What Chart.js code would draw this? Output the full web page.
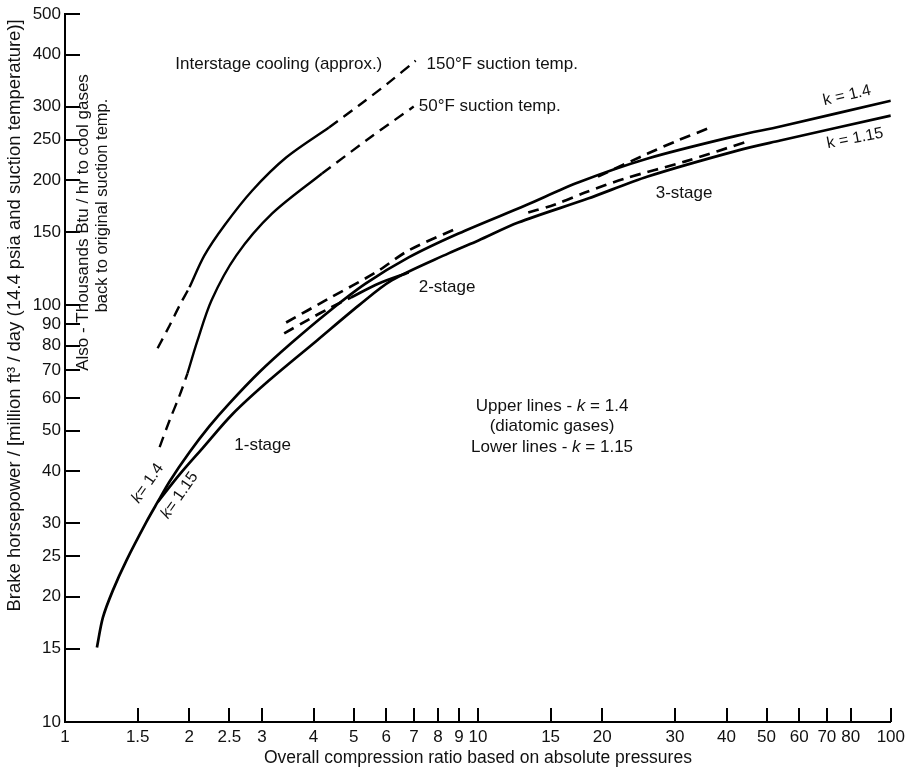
<!DOCTYPE html>
<html>
<head>
<meta charset="utf-8">
<script src="https://cdn.jsdelivr.net/npm/chart.js@4.4.0/dist/chart.umd.min.js"></script>
<style>
  html, body { margin: 0; padding: 0; background: #fff; }
  #wrap { width: 910px; height: 772px; }
</style>
</head>
<body>
<div id="wrap"><canvas id="hpChart" width="910" height="772"></canvas></div>
<script>
// axis ticks
const xTickValues = [1, 1.5, 2, 2.5, 3, 4, 5, 6, 7, 8, 9, 10, 15, 20, 30, 40, 50, 60, 70, 80, 100];
const yTickValues = [10, 15, 20, 25, 30, 40, 50, 60, 70, 80, 90, 100, 150, 200, 250, 300, 400, 500];

// k = 1.4 main curve (1-stage -> 2-stage -> 3-stage)
const k14X = [1.195, 1.235, 1.306, 1.411, 1.577, 1.676, 1.792, 2.002, 2.238, 2.501, 2.954, 3.528, 4.358, 5.354, 6.797, 8.974, 13.02, 17.48, 25.78, 42.5, 53.98, 100];
const k14Y = [15.1, 17.8, 20.7, 24.5, 30.3, 33.7, 37.8, 44.4, 51.3, 58.2, 69.1, 81.1, 96.7, 112.9, 130.4, 148.8, 173.7, 197.2, 225.2, 255.6, 268.8, 310];

// k = 1.15 main curve
const k115X = [1.676, 1.895, 2.152, 2.543, 3.123, 4.077, 5.148, 6.183, 8.488, 10.03, 12.52, 18.48, 25.78, 42.5, 53.98, 100];
const k115Y = [33.7, 39.3, 45.4, 54.8, 66.1, 82.4, 100, 114.8, 133.3, 143.2, 158.1, 180.5, 203.9, 235.3, 248.7, 285.5];

// 2-stage k = 1.15 start (dashed, then solid)
const twoStageDashX = [3.395, 3.9, 4.407, 4.925];
const twoStageDashY = [85.7, 92.6, 98.9, 104.5];
const twoStageSolidX = [4.925, 5.754, 6.797];
const twoStageSolidY = [104.5, 112.9, 120.0];

// 1-stage k = 1.4 extension (dashed)
const oneStageExtX = [3.432, 4.358, 5.657, 6.797, 8.974];
const oneStageExtY = [91.0, 103.9, 120.0, 135.5, 153.8];

// 2-stage k = 1.4 extension (dashed)
const twoStageExtX = [19.53, 25.78, 30.46, 36.59];
const twoStageExtY = [203.9, 231.4, 248.7, 267.3];

// 3-stage start (dashed, between the main curves)
const threeStageDashX = [13.24, 15.38, 18.17, 22.69, 31.67, 45.68];
const threeStageDashY = [167.1, 174.7, 186.6, 201.6, 221.4, 248.7];

// interstage cooling, 150°F suction
const cool150LowX = [1.676, 1.792, 1.895, 2.002];
const cool150LowY = [78.9, 89.5, 100, 110.5];
const cool150X = [2.002, 2.176, 2.432, 2.842, 3.432, 4.358];
const cool150Y = [110.5, 131.8, 155.5, 188.7, 226.4, 267.3];
const cool150HighX = [4.358, 5.148, 6.082, 7.067];
const cool150HighY = [267.3, 301.8, 342.6, 386.8];

// interstage cooling, 50°F suction
const cool50LowX = [1.695, 1.792, 1.895, 1.98];
const cool50LowY = [45.7, 53.0, 60.8, 68.7];
const cool50X = [1.98, 2.094, 2.263, 2.6, 3.176, 4.192];
const cool50Y = [68.7, 82.4, 102.8, 131.8, 166.2, 207.3];
const cool50HighX = [4.192, 5.443, 6.99];
const cool50HighY = [207.3, 251.5, 300.1];

const FONT = '"Liberation Sans", Arial, Helvetica, sans-serif';
const DASH = [11, 7];

function pts(xs, ys) {
    return xs.map((x, i) => ({x: x, y: ys[i]}));
}

function curve(label, xs, ys, dashed, width) {
    return {
        label: label,
        data: pts(xs, ys),
        showLine: true,
        borderColor: '#000',
        borderWidth: width || 2.7,
        borderDash: dashed ? DASH : [],
        pointRadius: 0,
        fill: false,
        tension: 0.3
    };
}

const datasets = [
    curve('k = 1.4', k14X, k14Y, false),
    curve('k = 1.15', k115X, k115Y, false),
    curve('2-stage k = 1.15 (dashed)', twoStageDashX, twoStageDashY, true),
    curve('2-stage k = 1.15', twoStageSolidX, twoStageSolidY, false),
    curve('1-stage k = 1.4 ext.', oneStageExtX, oneStageExtY, true),
    curve('2-stage k = 1.4 ext.', twoStageExtX, twoStageExtY, true),
    curve('3-stage start', threeStageDashX, threeStageDashY, true),
    curve('150°F low', cool150LowX, cool150LowY, true, 2.4),
    curve('150°F', cool150X, cool150Y, false, 2.4),
    curve('150°F high', cool150HighX, cool150HighY, true, 2.4),
    curve('50°F low', cool50LowX, cool50LowY, true, 2.4),
    curve('50°F', cool50X, cool50Y, false, 2.4),
    curve('50°F high', cool50HighX, cool50HighY, true, 2.4)
];

// text notes placed in data coordinates
const notes = [
    {parts: [{t: 'Interstage cooling (approx.)'}], x: 1.85, y: 380, align: 'left'},
    {parts: [{t: '150°F suction temp.'}], x: 7.51, y: 380, align: 'left'},
    {parts: [{t: '50°F suction temp.'}], x: 7.19, y: 300, align: 'left'},
    {parts: [{t: '1-stage'}], x: 2.57, y: 46.2, align: 'left'},
    {parts: [{t: '2-stage'}], x: 7.19, y: 110.5, align: 'left'},
    {parts: [{t: '3-stage'}], x: 26.96, y: 185.6, align: 'left'},
    {parts: [{t: 'k = 1.4'}], x: 78.3, y: 318.8, align: 'center', rot: -13, size: 16},
    {parts: [{t: 'k = 1.15'}], x: 81.9, y: 251.5, align: 'center', rot: -11, size: 16},
    {parts: [{t: 'k', i: true}, {t: '= 1.4'}], x: 1.586, y: 37.4, align: 'center', rot: -55, size: 16},
    {parts: [{t: 'k', i: true}, {t: '= 1.15'}], x: 1.895, y: 35.0, align: 'center', rot: -55, size: 16},
    {parts: [{t: 'Upper lines - '}, {t: 'k', i: true}, {t: ' = 1.4'}], x: 15.12, y: 57.3, align: 'center'},
    {parts: [{t: '(diatomic gases)'}], x: 15.12, y: 51.3, align: 'center'},
    {parts: [{t: 'Lower lines - '}, {t: 'k', i: true}, {t: ' = 1.15'}], x: 15.12, y: 45.7, align: 'center'},
    {parts: [{t: 'Also - Thousands Btu / hr to cool gases'}], x: 1.105, y: 158.1, align: 'center', rot: -90},
    {parts: [{t: 'back to original suction temp.'}], x: 1.235, y: 173.7, align: 'center', rot: -90, size: 16.5}
];

function drawRich(ctx, parts, align, size) {
    const font = p => (p.i ? 'italic ' : '') + size + 'px ' + FONT;
    const widths = parts.map(p => { ctx.font = font(p); return ctx.measureText(p.t).width; });
    const total = widths.reduce((a, b) => a + b, 0);
    let cx = align === 'center' ? -total / 2 : (align === 'right' ? -total : 0);
    ctx.textAlign = 'left';
    ctx.textBaseline = 'middle';
    parts.forEach((p, i) => {
        ctx.font = font(p);
        ctx.fillText(p.t, cx, 0);
        cx += widths[i];
    });
}

const notesPlugin = {
    id: 'notes',
    afterDraw(chart) {
        const {ctx, chartArea, scales: {x, y}} = chart;
        ctx.save();
        ctx.fillStyle = '#111';
        ctx.strokeStyle = '#000';
        ctx.lineWidth = 2;

        // ticks point inward
        xTickValues.forEach(v => {
            if (v === 1) return;
            const px = Math.round(x.getPixelForValue(v));
            ctx.beginPath();
            ctx.moveTo(px, chartArea.bottom);
            ctx.lineTo(px, chartArea.bottom - 14);
            ctx.stroke();
        });
        yTickValues.forEach(v => {
            if (v === 10) return;
            const py = Math.round(y.getPixelForValue(v));
            ctx.beginPath();
            ctx.moveTo(chartArea.left, py);
            ctx.lineTo(chartArea.left + 15, py);
            ctx.stroke();
        });

        notes.forEach(n => {
            ctx.save();
            ctx.translate(x.getPixelForValue(n.x), y.getPixelForValue(n.y));
            if (n.rot) ctx.rotate(n.rot * Math.PI / 180);
            drawRich(ctx, n.parts, n.align, n.size || 17);
            ctx.restore();
        });

        // left axis title
        ctx.save();
        ctx.translate(15, y.getPixelForValue(94.6));
        ctx.rotate(-Math.PI / 2);
        drawRich(ctx, [{t: 'Brake horsepower / [million ft³ / day (14.4 psia and suction temperature)]'}], 'center', 18.5);
        ctx.restore();

        ctx.restore();
    }
};

const ctx = document.getElementById('hpChart').getContext('2d');

const hpChart = new Chart(ctx, {
    type: 'scatter',
    data: { datasets: datasets },
    options: {
        responsive: false,
        animation: false,
        devicePixelRatio: 1,
        layout: { padding: { top: 13, right: 16, left: 0, bottom: 0 } },
        plugins: {
            legend: { display: false },
            tooltip: { enabled: false }
        },
        scales: {
            x: {
                type: 'logarithmic',
                min: 1,
                max: 100,
                afterBuildTicks: s => { s.ticks = xTickValues.map(v => ({value: v})); },
                afterFit: s => { s.height = 50; },
                ticks: {
                    autoSkip: false,
                    maxRotation: 0,
                    padding: 5,
                    color: '#111',
                    font: { family: FONT, size: 17 },
                    callback: v => String(v)
                },
                grid: { drawOnChartArea: false, drawTicks: false },
                border: { color: '#000', width: 2 },
                title: {
                    display: true,
                    text: 'Overall compression ratio based on absolute pressures',
                    color: '#111',
                    font: { family: FONT, size: 17.5 },
                    padding: { top: 0, bottom: 3 }
                }
            },
            y: {
                type: 'logarithmic',
                min: 10,
                max: 500,
                afterBuildTicks: s => { s.ticks = yTickValues.map(v => ({value: v})); },
                afterFit: s => { s.width = 65; },
                ticks: {
                    autoSkip: false,
                    padding: 4,
                    color: '#111',
                    font: { family: FONT, size: 17 },
                    callback: v => String(v)
                },
                grid: { drawOnChartArea: false, drawTicks: false },
                border: { color: '#000', width: 2 }
            }
        }
    },
    plugins: [notesPlugin]
});
</script>
</body>
</html>
